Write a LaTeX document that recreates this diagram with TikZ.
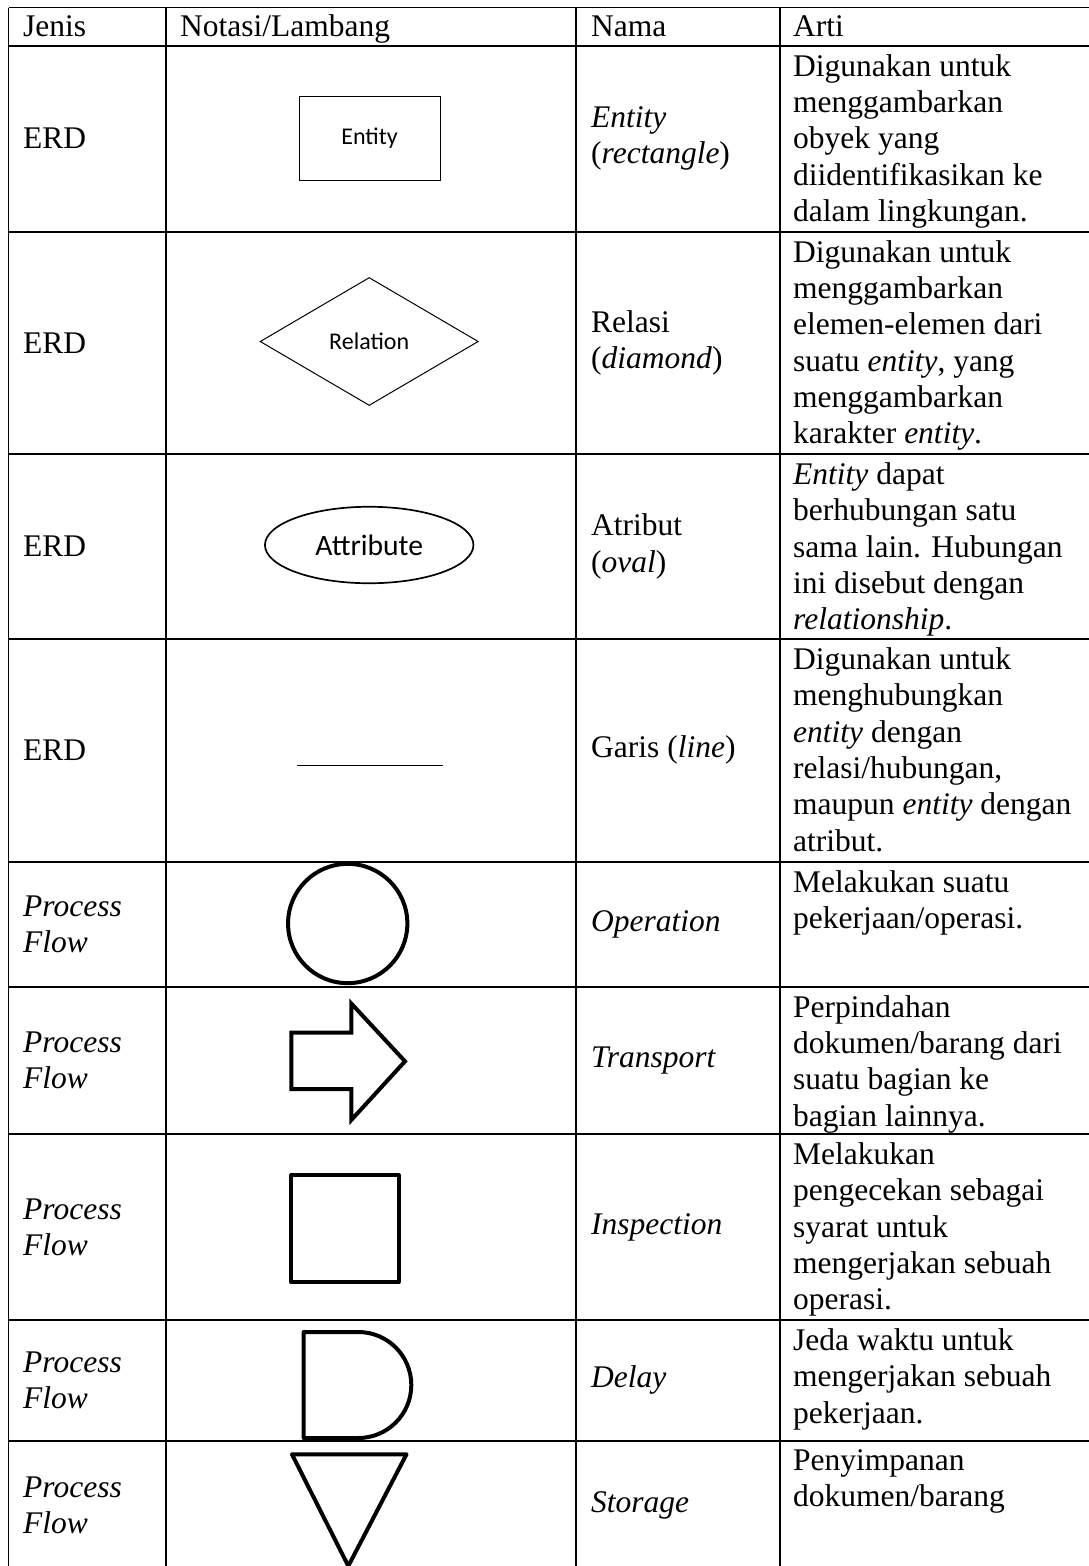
\documentclass[tikz,border=0pt]{standalone}
\usepackage{fontspec}
\setmainfont{Liberation Serif}
\newfontfamily\calibri{Carlito}
\usepackage{tikz}
\usetikzlibrary{shapes.geometric}

\begin{document}
\begin{tikzpicture}[x=1pt, y=-1pt,
        font=\fontsize{31.5}{36.3}\selectfont,
        grid/.style={line width=1.8pt},
        teks/.style={inner sep=0pt, align=left},
        arti/.style={teks, anchor=north west},
        sel/.style={teks, anchor=west},
        tipis/.style={draw, line width=1pt},
        tebal/.style={draw, line width=4pt}]
        \useasboundingbox (0,0) rectangle (1089,1566);

        % Table lines
        \foreach \y in {7.5,45.7,231.7,454,639,861.7,986.7,1134,1320,1440.7}
            \draw[grid] (8.5,\y) -- (1092,\y);
        \foreach \x in {8.5,166,576,780}
            \draw[grid] (\x,7.5) -- (\x,1572);

        % Header
        \node[teks, anchor=base west] (hJenis) at (23,36.7) {Jenis};
        \node[teks, anchor=base west] (hNotasi) at (180,36.7) {Notasi/Lambang};
        \node[teks, anchor=base west] (hNama) at (591,36.7) {Nama};
        \node[teks, anchor=base west] (hArti) at (793,36.7) {Arti};

        % Jenis column
        \node[sel] (j1) at (23,138.7) {ERD};
        \node[sel] (j2) at (23,342.8) {ERD};
        \node[sel] (j3) at (23,546.5) {ERD};
        \node[sel] (j4) at (23,750.3) {ERD};
        \node[sel, font=\fontsize{31.5}{36.3}\selectfont\itshape] (j5) at (23,924.2) {Process\\Flow};
        \node[sel, font=\fontsize{31.5}{36.3}\selectfont\itshape] (j6) at (23,1060.3) {Process\\Flow};
        \node[sel, font=\fontsize{31.5}{36.3}\selectfont\itshape] (j7) at (23,1227) {Process\\Flow};
        \node[sel, font=\fontsize{31.5}{36.3}\selectfont\itshape] (j8) at (23,1380.3) {Process\\Flow};
        \node[sel, font=\fontsize{31.5}{36.3}\selectfont\itshape] (j9) at (23,1505) {Process\\Flow};

        % Notasi column
        \node[tipis, rectangle, minimum width=141, minimum height=84, inner sep=0pt,
              font=\calibri\fontsize{24}{28}\selectfont] (entity) at (369.5,138) {Entity};
        \node[tipis, diamond, minimum width=218.3, minimum height=128, inner sep=0pt,
              font=\calibri\fontsize{24}{28}\selectfont] (relation) at (369.2,341.5) {Relation};
        \node[draw, line width=1.7pt, ellipse, minimum width=208.5, minimum height=76.5, inner sep=0pt,
              font=\calibri\fontsize{29.6}{34}\selectfont] (attribute) at (369.2,545) {Attribute};
        \coordinate (garisA) at (297,765);
        \coordinate (garisB) at (443,765);
        \draw[line width=1pt] (garisA) -- (garisB);
        \node[tebal, circle, minimum size=119.3, inner sep=0pt] (operation) at (347.7,923.5) {};
        \draw[line width=4pt, miter limit=10]
            (291.3,1032.7) -- (351.3,1032.7) -- (351.3,1003.5) -- (405,1061.3)
            -- (351.3,1120) -- (351.3,1089) -- (291.3,1089) -- cycle;
        \node[tebal, rectangle, line join=round, minimum width=107.4, minimum height=106.7, inner sep=0pt]
            (inspection) at (345,1228.7) {};
        \draw[line width=4pt, line join=round]
            (303.7,1332) -- (358.3,1332) arc[start angle=-90, end angle=90, radius=53]
            -- (303.7,1438) -- cycle;
        \draw[line width=4pt, line join=round]
            (292,1454.3) -- (406.5,1454.3) -- (348.3,1566) -- cycle;

        % Nama column
        \node[sel] (n1) at (591,138.7) {\textit{Entity}\\(\textit{rectangle})};
        \node[sel] (n2) at (591,342.8) {Relasi\\(\textit{diamond})};
        \node[sel] (n3) at (591,546.5) {Atribut\\(\textit{oval})};
        \node[sel] (n4) at (591,750.3) {Garis (\textit{line})};
        \node[sel] (n5) at (591,924.2) {\textit{Operation}};
        \node[sel] (n6) at (591,1060.3) {\textit{Transport}};
        \node[sel] (n7) at (591,1227) {\textit{Inspection}};
        \node[sel] (n8) at (591,1380.3) {\textit{Delay}};
        \node[sel] (n9) at (591,1505) {\textit{Storage}};

        % Arti column
        \node[arti] (a1) at (793,54.2) {Digunakan untuk\\menggambarkan\\obyek yang\\diidentifikasikan ke\\dalam lingkungan.};
        \node[arti] (a2) at (793,240.2) {Digunakan untuk\\menggambarkan\\elemen-elemen dari\\suatu \textit{entity}, yang\\menggambarkan\\karakter \textit{entity}.};
        \node[arti] (a3) at (793,462.5) {\textit{Entity} dapat\\berhubungan satu\\sama lain. Hubungan\\ini disebut dengan\\\textit{relationship}.};
        \node[arti] (a4) at (793,647.5) {Digunakan untuk\\menghubungkan\\\textit{entity} dengan\\relasi/hubungan,\\maupun \textit{entity} dengan\\atribut.};
        \node[arti] (a5) at (793,870.2) {Melakukan suatu\\pekerjaan/operasi.};
        \node[arti] (a6) at (793,995.2) {Perpindahan\\dokumen/barang dari\\suatu bagian ke\\bagian lainnya.};
        \node[arti] (a7) at (793,1142.5) {Melakukan\\pengecekan sebagai\\syarat untuk\\mengerjakan sebuah\\operasi.};
        \node[arti] (a8) at (793,1328.5) {Jeda waktu untuk\\mengerjakan sebuah\\pekerjaan.};
        \node[arti] (a9) at (793,1449.2) {Penyimpanan\\dokumen/barang};
    \end{tikzpicture}
\end{document}
